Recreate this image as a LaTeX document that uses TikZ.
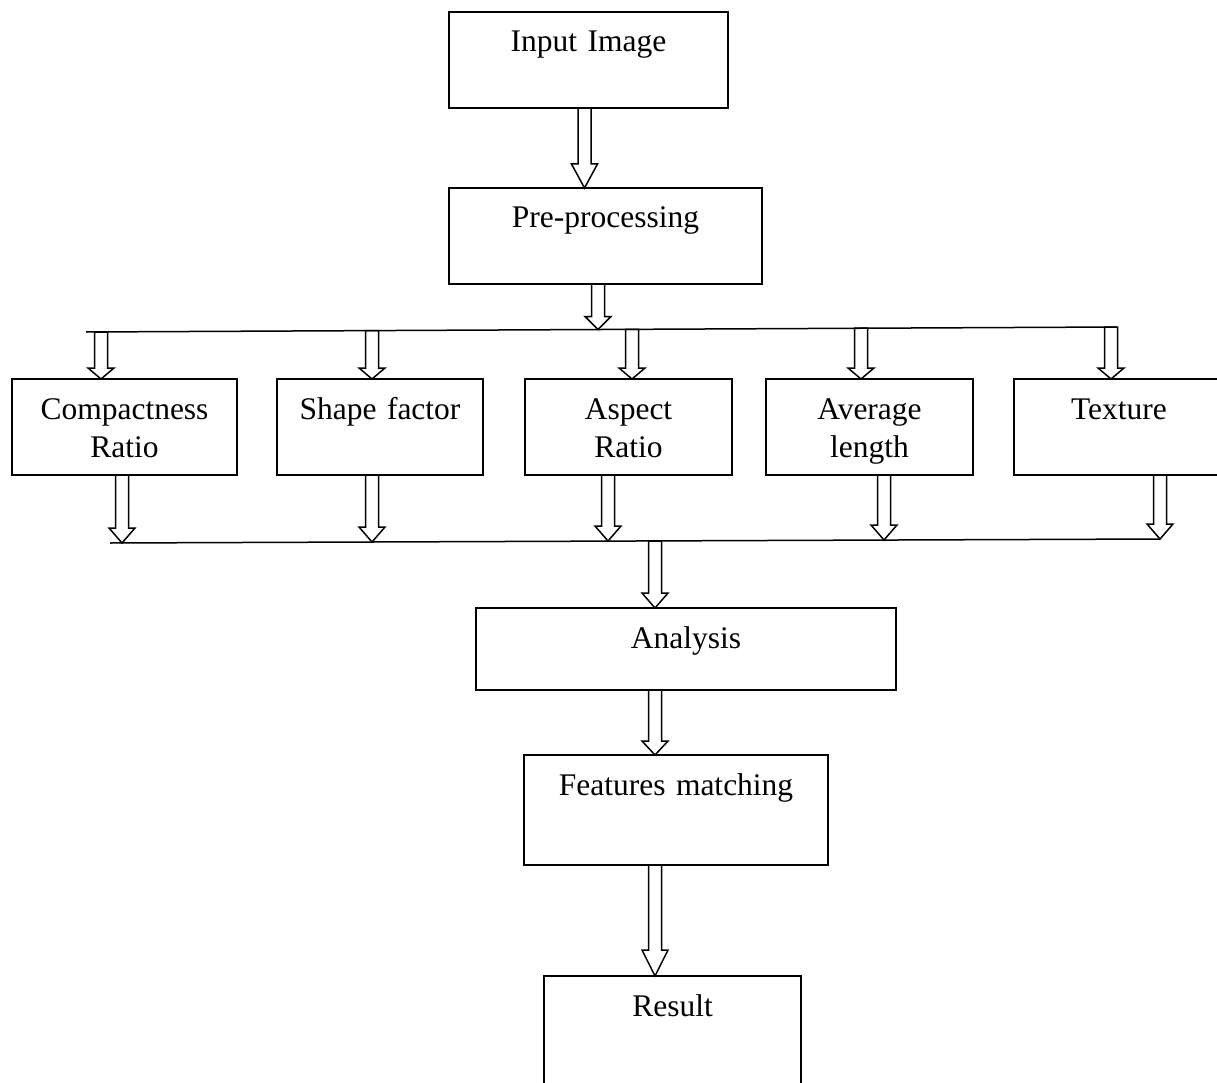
\documentclass[tikz,border=0pt]{standalone}
\usepackage{fontspec}
\setmainfont{Liberation Serif}
\usetikzlibrary{calc}

\tikzset{
  stage/.style={draw, line width=1.5pt, inner sep=0pt, outer sep=0pt, anchor=north west,
    align=center, text height=40pt, font=\fontsize{31.5}{38}\selectfont},
  hollow/.style={draw, line width=1.5pt, line join=miter}
}

% 空心箭头: 横坐标取起点, 从起点纵坐标画到终点纵坐标
\newcommand{\blockarr}[3][13]{%
  \draw[hollow] let \p1=(#2), \p2=(#3) in
    (\x1-6.5pt,\y1) -- (\x1-6.5pt,\y2+#1pt) -- (\x1-13pt,\y2+#1pt) -- (\x1,\y2)
    -- (\x1+13pt,\y2+#1pt) -- (\x1+6.5pt,\y2+#1pt) -- (\x1+6.5pt,\y1) -- cycle;}

\begin{document}
\begin{tikzpicture}[x=1pt, y=-1pt]
    \useasboundingbox (0,0) rectangle (1217,1083);

    % 流程方框
    \node[stage, text width=279pt, text depth=56pt] (input) at (449,12) {Input Image};
    \node[stage, text width=313pt, text depth=56pt] (pre) at (449,188) {Pre-processing};

    \node[stage, text width=225pt, text depth=56pt] (comp) at (12,379) {Compactness\\Ratio};
    \node[stage, text width=206pt, text depth=56pt] (shape) at (277,379) {Shape factor};
    \node[stage, text width=207pt, text depth=56pt] (aspect) at (525,379) {Aspect\\Ratio};
    \node[stage, text width=207pt, text depth=56pt] (avg) at (766,379) {Average\\length};
    \node[stage, text width=210pt, text depth=56pt] (tex) at (1014,379) {Texture};

    \node[stage, text width=420pt, text depth=42pt] (ana) at (476,608) {Analysis};
    \node[stage, text width=304pt, text depth=70pt] (feat) at (524,755) {Features matching};
    \node[stage, text width=257pt, text depth=90pt] (res) at (544,976) {Result};

    % 分支线
    \coordinate (splitL) at (86,332);
    \coordinate (splitR) at (1117,327);
    \draw[line width=1.5pt] (splitL) -- (splitR);
    \coordinate (tp) at (598,329.5);
    \coordinate (t1) at (101,332);
    \coordinate (t2) at (372,330.6);
    \coordinate (t3) at (632,329.3);
    \coordinate (t4) at (861,328.2);
    \coordinate (t5) at (1111,327);

    % 汇合线
    \coordinate (mergeL) at (110,543);
    \coordinate (mergeR) at (1160,539);
    \draw[line width=1.5pt] (mergeL) -- (mergeR);
    \coordinate (b1) at (122,543);
    \coordinate (b2) at (372,542);
    \coordinate (b3) at (608,541);
    \coordinate (b4) at (884,540);
    \coordinate (b5) at (1160,539);
    \coordinate (bm) at (655,541);

    % 空心箭头
    \blockarr[24]{[xshift=-4pt]input.south}{pre.north}
    \blockarr{tp |- pre.south}{tp}
    \foreach \i/\nm in {1/comp,2/shape,3/aspect,4/avg,5/tex}
        \blockarr[11]{t\i}{t\i |- \nm.north};
    \foreach \i/\nm in {1/comp,2/shape,3/aspect,4/avg,5/tex}
        \blockarr[15]{b\i |- \nm.south}{b\i};
    \blockarr[15]{bm}{bm |- ana.north}
    \blockarr[14]{bm |- ana.south}{bm |- feat.north}
    \blockarr[26]{bm |- feat.south}{bm |- res.north}
\end{tikzpicture}
\end{document}
